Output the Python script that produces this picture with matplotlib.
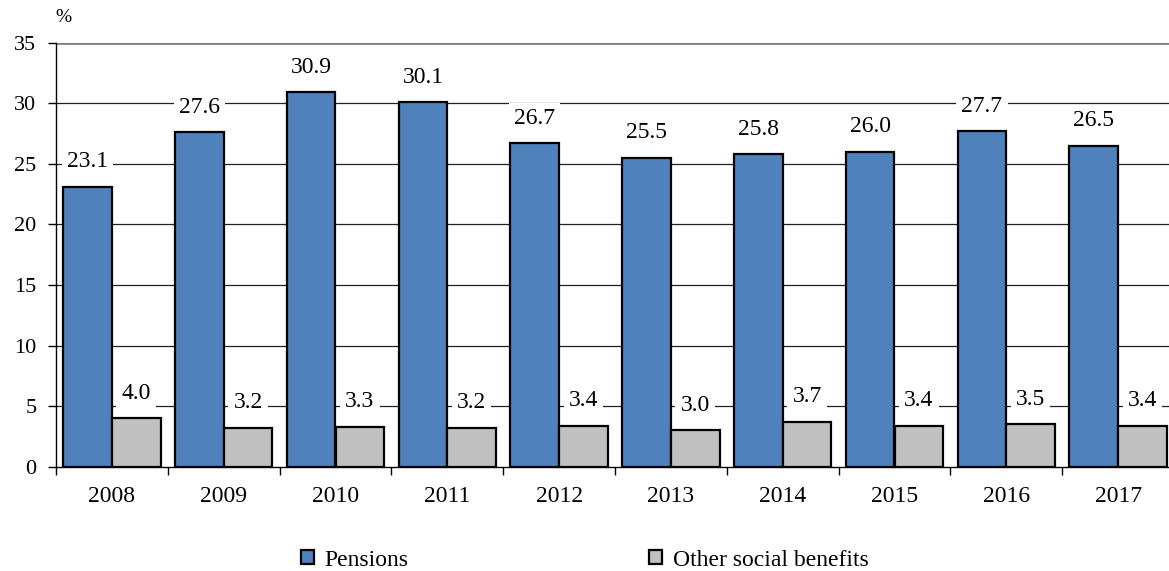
import matplotlib.pyplot as plt
import numpy as np

years = ['2008', '2009', '2010', '2011', '2012', '2013', '2014', '2015', '2016', '2017']
pensions = [23.1, 27.6, 30.9, 30.1, 26.7, 25.5, 25.8, 26.0, 27.7, 26.5]
other = [4.0, 3.2, 3.3, 3.2, 3.4, 3.0, 3.7, 3.4, 3.5, 3.4]

plt.rcParams['font.family'] = ['Liberation Serif', 'DejaVu Serif']

fig = plt.figure(figsize=(11.69, 5.71), dpi=100)
ax = fig.add_axes([56/1169, 104.3/571, 1113/1169, 424/571])

x = np.arange(len(years))
w = 0.435
b1 = ax.bar(x - w/2, pensions, w, color='#4F81BD', edgecolor='black', linewidth=1.6, label='Pensions', zorder=3)
b2 = ax.bar(x + w/2, other, w, color='#C0C0C0', edgecolor='black', linewidth=1.6, label='Other social benefits', zorder=3)

# value labels with white box over the gridlines
for bars, vals in [(b1, pensions), (b2, other)]:
    for r, v in zip(bars, vals):
        ax.annotate('%.1f' % v, (r.get_x() + r.get_width()/2, v), xytext=(0, 18),
                    textcoords='offset points', ha='center', va='center', fontsize=17,
                    bbox=dict(boxstyle='square,pad=0.22', fc='white', ec='none'), zorder=4)

ax.set_ylim(0, 35)
ax.set_xlim(-0.5, 9.5 - 5/111.8)
ax.set_yticks(range(0, 36, 5))
for yv in range(5, 31, 5):
    ax.axhline(yv, color='#202020', linewidth=0.9, zorder=1)
ax.axhline(35, color='#808080', linewidth=2, zorder=1)

ax.set_xticks(x)
ax.set_xticklabels(years)
ax.set_xticks(np.arange(-0.5, 9.5, 1), minor=True)
ax.tick_params(axis='x', which='major', length=0, pad=14, labelsize=17)
ax.tick_params(axis='x', which='minor', length=6, width=1, direction='out')
ax.tick_params(axis='y', length=6, width=1, direction='out', labelsize=16, pad=8)

for s in ['top', 'right']:
    ax.spines[s].set_visible(False)
ax.spines['left'].set_linewidth(1)
ax.spines['bottom'].set_linewidth(1)

fig.text(63/1169, 1 - 18/571, '%', ha='center', va='center', fontsize=14)

fig.legend(handles=[b1, b2], loc='center', bbox_to_anchor=(0.5, 11/571), ncol=2,
           frameon=False, fontsize=17, columnspacing=10.2, handlelength=0.55,
           handleheight=0.55, handletextpad=0.45)

plt.savefig('out.png', dpi=100)
